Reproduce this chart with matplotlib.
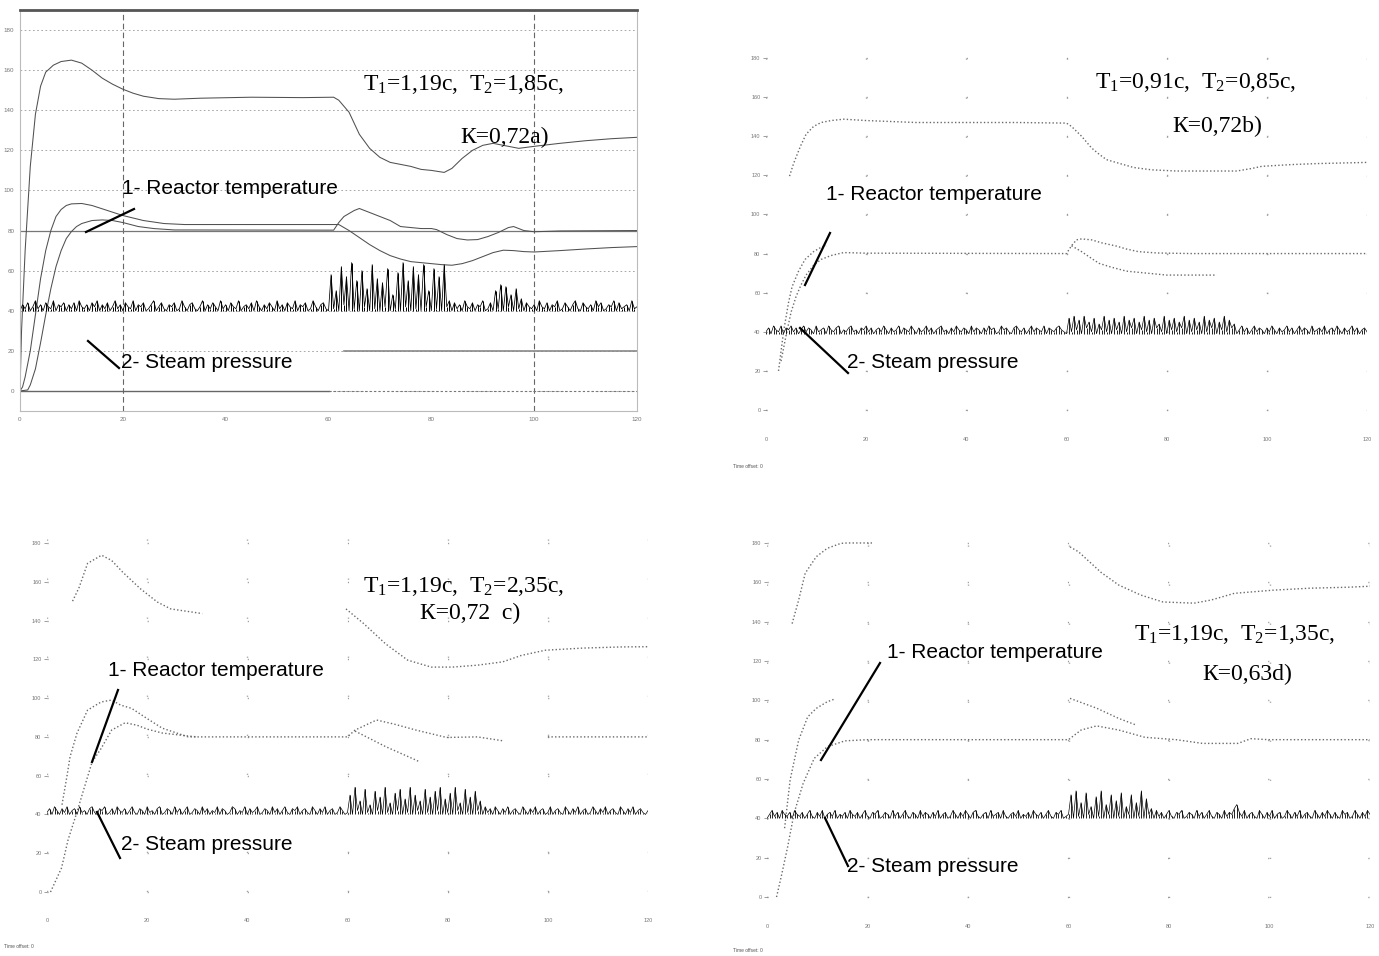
import numpy as np
import matplotlib.pyplot as plt
from matplotlib.lines import Line2D

W, H = 1379, 956
nan = np.nan

plt.rcParams['font.family'] = ['Liberation Sans', 'DejaVu Sans']
plt.rcParams['mathtext.fontset'] = 'custom'
plt.rcParams['mathtext.rm'] = 'Liberation Serif'
plt.rcParams['mathtext.default'] = 'rm'

# ---------------- a) T1=1,19c, T2=1,85c, K=0,72
a_up_t = [0, 0.3, 1, 2, 3, 4, 5, 6.5, 8, 10, 12, 14, 16, 18, 20, 22, 24, 27, 30, 35,
          45, 55, 61, 62, 64, 66, 68, 70, 72, 74, 76, 78, 80, 82.5, 84, 86, 88, 90, 92, 94,
          97, 100, 105, 110, 115, 120]
a_up = [0, 30, 70, 112, 138, 152, 159, 162.5, 164.3, 165, 163.5, 160, 156, 153, 150.5, 148.5, 147, 145.8, 145.5, 146,
        146.5, 146.3, 146.5, 145, 139, 128, 121, 116.5, 114, 113, 112, 110.5, 110, 109, 111, 116, 120, 122.5, 123.5, 122.5,
        121, 122, 123.5, 124.8, 125.8, 126.5]
a_fast_t = [0, 0.5, 1, 2, 3, 4, 5, 6, 7, 8, 9, 10, 12, 14, 17, 20, 24, 28, 32, 60,
            62, 64, 66, 68, 70, 72, 74, 76, 78, 80, 82, 84, 86, 88, 90, 92, 94, 96, 98, 100,
            105, 110, 115, 120]
a_fast = [0, 2, 7, 20, 38, 56, 70, 80, 87, 90.5, 92.5, 93.3, 93.5, 92.5, 90, 87.5, 85, 83.5, 83, 83,
          83, 80, 76.5, 73, 70, 67.5, 65.8, 64.5, 64, 63.5, 63, 62.7, 63.5, 65, 67, 69, 70.2, 70, 69.5, 69.3,
          70, 70.8, 71.5, 72]
a_slow_t = [0, 1.5, 2, 3, 4, 5, 6, 7, 8, 9, 10, 11, 12, 14, 16, 18, 20, 23, 26, 30,
            61, 62, 63, 65, 66, 68, 70, 72, 74, 76, 78, 80, 81, 83, 85, 87, 89, 91, 93, 95,
            96, 98, 100, 105, 120]
a_slow = [0, 0.5, 3, 11, 24, 38, 51, 62, 70, 76, 79.5, 82, 83.5, 85, 85.3, 85, 84, 82, 81, 80.3,
          80.2, 84, 87, 90, 91, 89, 87, 85, 82, 81.5, 81, 81, 80.5, 78, 76, 75.3, 75.5, 77, 79, 81.5,
          82, 80, 79.4, 79.8, 80]
# reference signals of plot a
a_set_t, a_set = [0, 120], [80, 80]
a_zero_t, a_zero = [0, 60], [0, 0]
a_zero2_t, a_zero2 = [60, 120], [0, 0]
a_step_t, a_step = [63, 120], [20, 20]
a_press = [40, 43, 41, 44, 40, 42, 45, 41, 43, 40, 44, 42, 41, 45, 40, 43, 42, 44, 40, 43,
           41, 44, 40, 45, 42, 41, 43, 40, 44, 42, 45, 40, 43, 41, 44, 40, 42, 45, 41, 43,
           40, 44, 42, 41, 45, 40, 43, 42, 44, 40, 41, 43, 45, 40, 42, 44, 41, 40, 43, 42,
           44, 40, 41, 45, 42, 40, 43, 44, 41, 40, 42, 45, 40, 43, 41, 44, 42, 40, 45, 41,
           43, 40, 44, 42, 41, 45, 40, 42, 43, 41, 44, 40, 45, 42, 40, 43, 41, 44, 42, 40,
           45, 41, 43, 40, 44, 42, 41, 45, 40, 43, 42, 44, 40, 41, 45, 42, 40, 43, 44, 41,
           40, 58, 41, 50, 40, 62, 43, 57, 40, 64, 41, 55, 40, 60, 42, 51, 40, 63, 41, 56,
           40, 54, 42, 61, 40, 48, 41, 59, 40, 64, 42, 55, 40, 62, 41, 58, 40, 63, 42, 50,
           40, 61, 41, 57, 40, 63, 42, 45, 40, 44, 41, 43, 40, 45, 42, 41, 44, 40, 43, 42,
           45, 40, 41, 44, 40, 50, 41, 53, 40, 52, 42, 48, 40, 51, 41, 46, 40, 44, 42, 41,
           43, 40, 45, 42, 41, 44, 40, 43, 42, 45, 40, 41, 44, 42, 40, 43, 45, 41, 40, 44,
           42, 41, 43, 40, 45, 42, 44, 40, 41, 43, 42, 45, 40, 44, 41, 42, 43, 40, 45, 41,
           42]

# ---------------- b) T1=0,91c, T2=0,85c, K=0,72
b_up_t = [4.7, 5.5, 6.9, 8, 9.5, 11, 13, 15.5, 20, 30, 40, 50, 60, 61, 63, 65, 66.5, 68, 70, 73.4,
          77, 82, 88, 94, 97, 99, 105, 110, 120]
b_up = [119.6, 126, 135, 141, 145, 147, 148, 148.7, 148, 147, 147, 147, 146.7, 145, 140, 134, 130.8, 128, 126.5, 124,
        122.8, 122.2, 122.2, 122.2, 123.5, 124.6, 125.5, 126, 126.6]
b_fast_t = [2.5, 3.5, 4.5, 5.2, 6.5, 7.8, 9.5, 11.2, 12]
b_fast = [20, 40, 55, 63, 71, 77, 81, 83.5, 84]
b_slow_t = [3, 4, 5, 6, 7, 8, 9.5, 11, 13, 15.5, 20, 60, 61, 62, 63, 65, 67, 70, 72, 74.3,
            78, 85, 120]
b_slow = [25, 38, 50, 58, 64, 69, 74, 77, 79, 80.5, 80.2, 80, 84, 87, 87.5, 87, 85.5, 83.8, 82.3, 81,
          80.3, 80, 80]
b_drop_t = [61, 63, 65, 66.5, 69, 72, 76, 80, 90]
b_drop = [84, 81, 77.5, 75, 73, 71, 70, 69, 69]
b_press = [40, 42, 39, 43, 41, 40, 43, 39, 42, 41, 43, 40, 42, 39, 41, 43, 40, 42, 41, 39,
           43, 40, 41, 42, 39, 43, 41, 40, 42, 43, 39, 41, 40, 42, 43, 40, 41, 39, 42, 41,
           43, 40, 42, 39, 41, 42, 40, 43, 41, 39, 42, 40, 41, 43, 39, 42, 41, 40, 43, 41,
           39, 42, 40, 41, 43, 40, 42, 39, 41, 42, 43, 40, 41, 39, 42, 40, 43, 41, 40, 42,
           41, 39, 43, 40, 42, 41, 39, 42, 40, 43, 41, 42, 39, 40, 43, 41, 42, 40, 39, 42,
           43, 41, 40, 42, 39, 41, 43, 40, 42, 41, 40, 43, 39, 42, 41, 40, 42, 43, 41, 40,
           39, 47, 40, 48, 41, 46, 39, 48, 42, 45, 40, 47, 39, 44, 41, 48, 40, 46, 39, 47,
           41, 45, 39, 48, 40, 46, 42, 47, 39, 45, 41, 48, 40, 46, 39, 47, 42, 44, 40, 48,
           39, 46, 41, 47, 40, 45, 42, 48, 39, 46, 40, 47, 41, 45, 39, 48, 40, 46, 42, 47,
           39, 45, 41, 48, 40, 46, 42, 44, 39, 41, 43, 40, 42, 39, 41, 43, 40, 42, 41, 39,
           42, 40, 43, 41, 39, 42, 40, 41, 43, 40, 42, 39, 41, 43, 40, 42, 41, 39, 43, 40,
           41, 42, 40, 43, 39, 41, 42, 40, 43, 41, 39, 42, 40, 41, 43, 40, 42, 39, 41, 42,
           40]

# ---------------- c) T1=1,19c, T2=2,35c, K=0,72
c_up_t = [5.1, 6.4, 8.1, 10.9, 12.9, 15.1, 18.6, 22, 24.7, 31,
          45, 59.7, 63.2, 67.6, 72, 76.7, 81, 86, 91, 94.7,
          99.5, 107, 114.8, 120]
c_up = [150, 157, 169.5, 173.7, 171, 165, 156.5, 149.6, 146, 143.6,
        nan, 146, 138.5, 128, 119.6, 116, 116, 117, 118.7, 122,
        124.7, 125.8, 126.4, 126.5]
c_fast_t = [3, 4, 4.6, 6, 8.1, 10.8, 12.9, 14.7, 16.9, 19.9, 23, 28.2, 30]
c_fast = [45, 60, 69.7, 82, 93.8, 98, 99, 96.4, 94.7, 89.6, 84.5, 80, 80]
c_slow_t = [0.7, 2.9, 4.2, 6, 7.3, 9, 10.8, 12.9, 15.6, 18, 20, 23, 28, 30, 60, 61.5, 65.8, 69.3, 73.7, 79.8,
            85.9, 91, 95, 100, 120]
c_slow = [0, 12.4, 26.8, 41.4, 52.6, 67, 74, 83.5, 87.3, 86, 84, 82, 80.5, 80, 80, 83.5, 88.7, 86.6, 83.5, 79.7,
          80, 78, nan, 80, 80]
c_drop_t = [61.5, 67.6, 73.7, 74.5]
c_drop = [83, 75, 68, 67]
c_press = [41, 43, 40, 44, 42, 40, 43, 41, 44, 40, 42, 43, 40, 44, 41, 42, 40, 43, 44, 41,
           40, 43, 42, 44, 40, 41, 43, 40, 44, 42, 41, 43, 40, 42, 44, 41, 40, 43, 42, 40,
           44, 41, 42, 40, 43, 44, 40, 41, 43, 42, 40, 44, 41, 43, 40, 42, 44, 40, 41, 43,
           42, 40, 44, 41, 43, 40, 42, 41, 44, 40, 43, 42, 40, 41, 44, 43, 40, 42, 41, 44,
           40, 43, 41, 42, 44, 40, 41, 43, 42, 40, 44, 41, 43, 40, 42, 44, 41, 40, 43, 42,
           44, 40, 42, 43, 41, 40, 44, 42, 40, 43, 41, 44, 40, 42, 43, 40, 41, 44, 42, 40,
           41, 50, 40, 54, 42, 47, 40, 53, 41, 45, 40, 52, 42, 49, 40, 54, 41, 46, 40, 51,
           42, 53, 40, 48, 41, 54, 40, 50, 42, 47, 40, 53, 41, 49, 40, 52, 42, 54, 40, 48,
           41, 51, 40, 54, 42, 46, 40, 53, 41, 49, 40, 52, 42, 47, 40, 44, 41, 43, 40, 44,
           42, 40, 43, 41, 44, 40, 42, 43, 41, 40, 44, 42, 40, 43, 41, 44, 40, 42, 43, 40,
           41, 44, 40, 42, 43, 41, 40, 44, 42, 40, 43, 41, 44, 40, 42, 43, 40, 41, 44, 42,
           40, 43, 41, 44, 40, 42, 43, 41, 40, 44, 42, 40, 43, 41, 44, 40, 42, 43, 41, 40,
           42]

# ---------------- d) T1=1,19c, T2=1,35c, K=0,63
d_up_t = [5, 6.3, 7.6, 9.8, 12, 14.7, 16, 21, 28, 60.3,
          62, 66.5, 70, 74.4, 78.8, 85, 88.4, 93, 100.7, 108,
          115.6, 120]
d_up = [139, 151, 164.6, 173, 177.3, 179.8, 180, 180, nan, 178,
        175.5, 165, 158.6, 153.5, 150, 149.4, 151, 154.4, 156, 157,
        157.5, 158]
d_fast_t = [3.5, 4.6, 6.3, 8.1, 9.8, 12, 13.3, 30, 60.3, 65.6, 70, 73.5]
d_fast = [35, 59.5, 79.8, 91.6, 95.9, 99.3, 100.5, nan, 101, 96, 90.8, 87.4]
d_slow_t = [1.9, 2.8, 4.1, 5.4, 7.2, 9.4, 12, 15.5, 20, 60,
            62.5, 65.6, 70, 75.2, 81.4, 86.7, 93.7, 96.3, 99.8, 120]
d_slow = [0, 10, 25.4, 42.7, 57.8, 70.5, 76.4, 79.4, 80, 80,
          84.9, 87, 84.9, 81.2, 80, 78.1, 78.1, 80.5, 80, 80]
d_press = [40, 42, 44, 41, 43, 40, 44, 42, 41, 43, 40, 44, 42, 41, 43, 40, 42, 44, 41, 40,
           43, 41, 44, 40, 42, 43, 41, 44, 40, 42, 41, 43, 40, 44, 42, 41, 43, 40, 42, 44,
           41, 40, 43, 42, 44, 40, 41, 43, 42, 40, 44, 41, 43, 40, 42, 44, 41, 40, 43, 42,
           40, 44, 41, 43, 42, 40, 43, 41, 44, 40, 42, 43, 40, 41, 44, 42, 40, 43, 41, 44,
           42, 40, 43, 44, 41, 40, 42, 43, 40, 44, 41, 42, 43, 40, 44, 41, 40, 42, 43, 41,
           44, 40, 42, 41, 43, 40, 44, 42, 41, 43, 40, 42, 44, 41, 40, 43, 42, 44, 40, 41,
           42, 52, 40, 54, 41, 48, 40, 53, 42, 46, 40, 51, 41, 54, 40, 47, 42, 52, 40, 49,
           41, 53, 40, 46, 42, 52, 40, 48, 41, 54, 40, 50, 42, 45, 40, 44, 41, 43, 40, 42,
           44, 41, 40, 43, 42, 44, 40, 41, 43, 42, 40, 44, 41, 43, 40, 42, 44, 41, 40, 43,
           42, 40, 44, 41, 43, 42, 45, 47, 43, 41, 44, 40, 42, 43, 41, 40, 44, 42, 40, 43,
           41, 44, 40, 42, 43, 40, 41, 44, 42, 40, 43, 41, 44, 40, 42, 43, 41, 40, 44, 42,
           40, 43, 41, 44, 42, 40, 43, 41, 40, 44, 42, 43, 40, 41, 44, 42, 40, 43, 41, 44,
           42]

y_ticks = list(range(0, 181, 20))
x_ticks = list(range(0, 121, 20))
a_vgrid = [20, 100]

labels = {
    'a': (r"T$_1$=1,19c,  T$_2$=1,85c,", "К=0,72a)"),
    'b': (r"T$_1$=0,91c,  T$_2$=0,85c,", "К=0,72b)"),
    'c': (r"T$_1$=1,19c,  T$_2$=2,35c,", "К=0,72  c)"),
    'd': (r"T$_1$=1,19c,  T$_2$=1,35c,", "К=0,63d)"),
}


def press_time(p):
    return np.arange(len(p)) * 0.5


def draw_press(ax, p, lw):
    # the recorder prints the pressure as a dense band of vertical strokes
    t = press_time(p)
    ax.vlines(t, min(p), p, color='k', lw=lw)
    ax.plot(t, p, color='k', lw=lw * 0.8)


def ftext(fig, px, py, s, **kw):
    fig.text(px / W, 1 - py / H, s, ha='left', va='center', **kw)


def fline(fig, x0, y0, x1, y1):
    fig.add_artist(Line2D([x0 / W, x1 / W], [1 - y0 / H, 1 - y1 / H],
                          color='k', lw=1.6, transform=fig.transFigure))


def base_axes(fig, rect):
    ax = fig.add_axes(rect)
    ax.set_xlim(0, 120)
    ax.set_ylim(-10, 190)
    ax.set_xticks(x_ticks)
    ax.set_yticks(y_ticks)
    ax.set_facecolor('none')
    return ax


def sparse_panel(fig, rect, up, fast, slow, drop, press):
    ax = base_axes(fig, rect)
    for s in ax.spines.values():
        s.set_visible(False)
    # dots only near the grid crossings, as on the printout
    ax.grid(axis='x', color='#999', lw=1.0, ls=(14, (0.8, 27.3)))
    ax.grid(axis='y', color='#999', lw=1.0, ls=(0, (0.8, 71.3)))
    ax.tick_params(labelsize=4, colors='#777', length=2, width=0.5, pad=2)
    ax.tick_params(axis='x', length=0, pad=5)
    dot = dict(color='#6a6a6a', lw=1.0, ls=(0, (1, 1.6)))
    for t, v in (up, fast, slow, drop):
        ax.plot(t, v, **dot)
    draw_press(ax, press, 0.6)
    return ax


fig = plt.figure(figsize=(W / 100, H / 100), dpi=100)

# ---- panel a (framed oscilloscope view)
ax = base_axes(fig, [20 / W, 1 - 411 / H, 617 / W, 401 / H])
ax.grid(axis='y', color='#999', lw=0.6, ls=(0, (2, 3)))
for x in a_vgrid:
    ax.axvline(x, color='#666', lw=0.8, ls=(0, (5, 3)))
for name, s in ax.spines.items():
    s.set_color('#bbb')
    s.set_linewidth(0.8)
ax.spines['top'].set_color('#555')
ax.spines['top'].set_linewidth(2)
ax.tick_params(labelsize=4.5, colors='#777', length=0, pad=4)
ax.plot(a_set_t, a_set, color='#777', lw=0.9)
ax.plot(a_zero_t, a_zero, color='#666', lw=1.0)
ax.plot(a_zero2_t, a_zero2, color='#777', lw=0.8, ls=(0, (2, 2)))
ax.plot(a_step_t, a_step, color='#888', lw=1.2)
for t, v in ((a_up_t, a_up), (a_fast_t, a_fast), (a_slow_t, a_slow)):
    ax.plot(t, v, color='#505050', lw=0.75)
draw_press(ax, a_press, 0.7)

# ---- panels b, c, d (sparse printouts)
sparse_panel(fig, [766 / W, 1 - 429.6 / H, 601 / W, 391.2 / H],
             (b_up_t, b_up), (b_fast_t, b_fast), (b_slow_t, b_slow), (b_drop_t, b_drop), b_press)
sparse_panel(fig, [47 / W, 1 - 911.4 / H, 601 / W, 387.8 / H],
             (c_up_t, c_up), (c_fast_t, c_fast), (c_slow_t, c_slow), (c_drop_t, c_drop), c_press)
sparse_panel(fig, [767 / W, 1 - 916.7 / H, 603 / W, 393.4 / H],
             (d_up_t, d_up), (d_fast_t, d_fast), (d_slow_t, d_slow), ([], []), d_press)

# ---- annotations
sans = dict(fontsize=15, color='k')
serif = dict(fontsize=17, color='k', family='Liberation Serif')
# text positions in pixels: reactor, steam, T-line, K-line, leader lines
notes = {
    'a': ((122, 188), (121, 362), (363, 84), (460, 137), (86, 232, 134, 209), (88, 341, 119, 368)),
    'b': ((826, 195), (847, 362), (1095, 82), (1172, 126), (805, 285, 830, 233), (800, 328, 848, 373)),
    'c': ((108, 670), (121, 845), (363, 587), (420, 613), (92, 762, 118, 690), (97, 812, 120, 858)),
    'd': ((887, 653), (847, 866), (1134, 635), (1202, 674), (821, 760, 880, 663), (825, 818, 848, 866)),
}
for key, (r, s, tp, kp, l1, l2) in notes.items():
    ftext(fig, *r, "1- Reactor temperature", **sans)
    ftext(fig, *s, "2- Steam pressure", **sans)
    ftext(fig, *tp, labels[key][0], **serif)
    ftext(fig, *kp, labels[key][1], **serif)
    fline(fig, *l1)
    fline(fig, *l2)

small = dict(fontsize=3.5, color='#555')
ftext(fig, 733, 467, "Time offset: 0", **small)
ftext(fig, 4, 946, "Time offset: 0", **small)
ftext(fig, 733, 950, "Time offset: 0", **small)

fig.savefig('out.png', dpi=100)
